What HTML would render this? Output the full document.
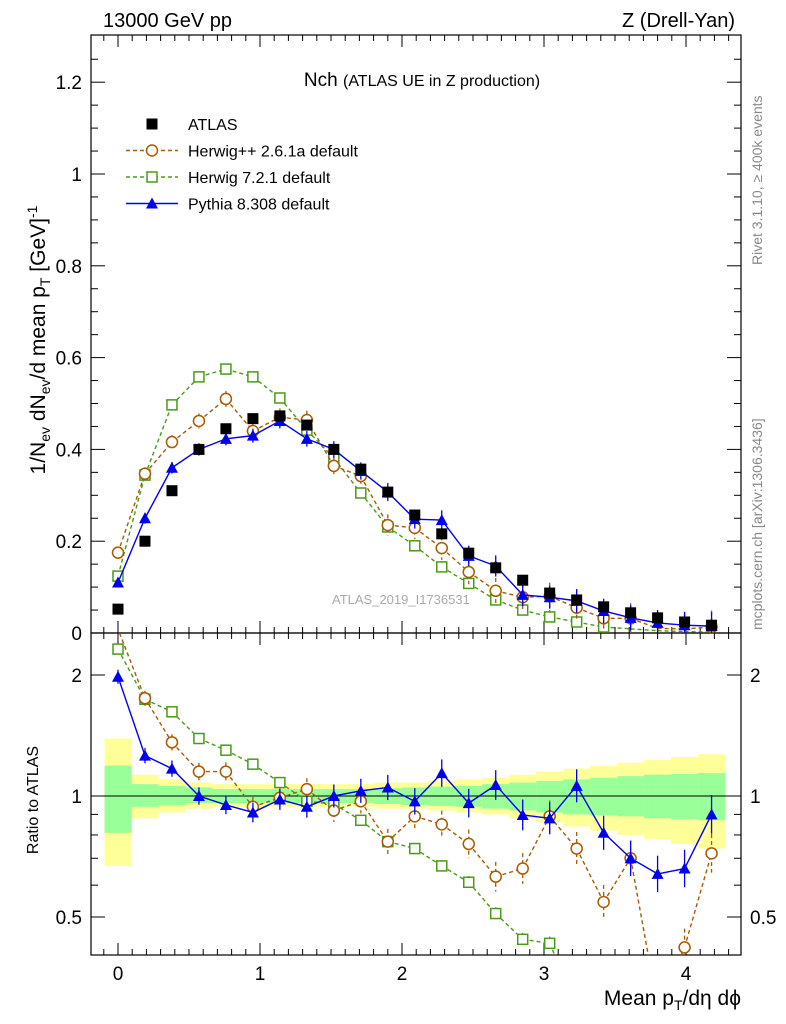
<!DOCTYPE html>
<html><head><meta charset="utf-8"><style>
html,body{margin:0;padding:0;background:#fff;overflow:hidden;width:786px;height:1024px}
svg{font-family:"Liberation Sans",Arial,sans-serif;display:block}
</style></head><body>
<svg id="c" width="786" height="1024" viewBox="0 0 786 1024" xmlns="http://www.w3.org/2000/svg">
<rect width="786" height="1024" fill="#fff"/>
<g id="bands"></g>
<g id="frames"></g>
<g id="series"></g>
<text x="103" y="27" font-size="20">13000 GeV pp</text>
<text x="735" y="27" font-size="20" text-anchor="end">Z (Drell-Yan)</text>
<text x="422" y="86" font-size="19" text-anchor="middle">Nch <tspan font-size="16">(ATLAS UE in Z production)</tspan></text>
<text x="332" y="604" font-size="13" fill="#aaa">ATLAS_2019_I1736531</text>
<text transform="translate(762,265) rotate(-90)" font-size="14" fill="#888">Rivet 3.1.10, ≥ 400k events</text>
<text transform="translate(762,630) rotate(-90)" font-size="14" fill="#888">mcplots.cern.ch [arXiv:1306.3436]</text>
<text transform="translate(45,340) rotate(-90)" font-size="21" text-anchor="middle">1/N<tspan font-size="14" dy="5">ev</tspan><tspan dy="-5"> dN</tspan><tspan font-size="14" dy="5">ev</tspan><tspan dy="-5">/d mean p</tspan><tspan font-size="14" dy="5">T</tspan><tspan dy="-5"> [GeV]</tspan><tspan font-size="14" dy="-8">-1</tspan></text>
<text transform="translate(38,800) rotate(-90)" font-size="16" text-anchor="middle">Ratio to ATLAS</text>
<text x="741" y="1005" font-size="21" text-anchor="end">Mean p<tspan font-size="14" dy="5">T</tspan><tspan dy="-5">/dη dϕ</tspan></text>
<g id="legend"></g>
</svg>
<script>
const xVals=[0,0.19,0.38,0.57,0.76,0.95,1.14,1.33,1.52,1.71,1.9,2.09,2.28,2.47,2.66,2.85,3.04,3.23,3.42,3.61,3.8,3.99,4.18];
const atlas=[0.052,0.2,0.31,0.40,0.445,0.467,0.473,0.453,0.40,0.357,0.307,0.257,0.216,0.174,0.142,0.115,0.087,0.072,0.057,0.044,0.033,0.024,0.017];
const pythia=[0.11,0.25,0.36,0.40,0.423,0.43,0.462,0.423,0.40,0.353,0.307,0.248,0.246,0.168,0.146,0.083,0.078,0.07,0.048,0.033,0.022,0.017,0.015];
const herwigpp=[0.175,0.347,0.416,0.462,0.51,0.44,0.47,0.464,0.364,0.342,0.235,0.229,0.185,0.133,0.092,0.078,0.08,0.055,0.032,0.032,0.01,0.009,0.013];
const herwig7=[0.124,0.344,0.497,0.558,0.575,0.558,0.512,0.442,0.381,0.305,0.231,0.19,0.144,0.108,0.072,0.05,0.035,0.024,0.013,0.009,0.005,0.003,0.002];
const rPythia=[1.98,1.26,1.17,1.0,0.95,0.91,0.98,0.94,1.0,1.03,1.05,0.97,1.14,0.96,1.065,0.897,0.88,1.06,0.81,0.70,0.64,0.66,0.90];
const rHerwigpp=[2.6,1.75,1.36,1.15,1.15,0.94,0.99,1.04,0.92,0.97,0.77,0.89,0.85,0.76,0.63,0.66,0.89,0.74,0.545,0.70,0.3,0.42,0.72];
const rHerwig7=[2.32,1.74,1.62,1.39,1.30,1.2,1.08,0.97,0.955,0.87,0.77,0.74,0.67,0.61,0.51,0.44,0.43,0.3,0.2,0.15,0.1,0.08,0.06];
const yellowUp=[1.39,1.13,1.1,1.08,1.07,1.07,1.07,1.07,1.07,1.07,1.08,1.08,1.09,1.1,1.11,1.13,1.15,1.17,1.19,1.21,1.23,1.25,1.27];
const yellowDn=[0.67,0.88,0.91,0.93,0.94,0.94,0.94,0.94,0.94,0.94,0.93,0.93,0.92,0.91,0.9,0.88,0.86,0.84,0.82,0.8,0.78,0.76,0.74];
const greenUp=[1.19,1.07,1.06,1.05,1.04,1.04,1.04,1.04,1.04,1.04,1.045,1.05,1.055,1.06,1.07,1.08,1.09,1.1,1.11,1.12,1.13,1.135,1.14];
const greenDn=[0.81,0.94,0.95,0.96,0.96,0.96,0.96,0.96,0.96,0.96,0.955,0.95,0.945,0.94,0.93,0.92,0.91,0.9,0.895,0.89,0.88,0.875,0.87];
const xTicks=[0,1,2,3,4];
const yTicks=[0,0.2,0.4,0.6,0.8,1,1.2];
const rTicks=[0.5,1,2];
const NS="http://www.w3.org/2000/svg";
const L=91,R=741,T=35,M=633,B=955;
const X=v=>118+v*142;
const Y=v=>633-v*459;
const RY=v=>796-Math.log2(v)*121;
function el(tag,attrs,parent){const e=document.createElementNS(NS,tag);for(const k in attrs)e.setAttribute(k,attrs[k]);parent.appendChild(e);return e;}
const bands=document.getElementById('bands'),frames=document.getElementById('frames'),ser=document.getElementById('series'),leg=document.getElementById('legend');
xVals.forEach((x,i)=>{const x0=X(x)-13.5,w=27.2;
 const yb=Math.min(RY(yellowDn[i]),B);
 let r=el('rect',{x:x0,y:RY(yellowUp[i]),width:w,height:yb-RY(yellowUp[i]),fill:'#ffff99'},bands);
 
 let g=el('rect',{x:x0,y:RY(greenUp[i]),width:w,height:RY(greenDn[i])-RY(greenUp[i]),fill:'#99ff99'},bands);
 });
[[T,M],[M,B]].forEach(([a,b],k)=>{const f=el('rect',{x:L,y:a,width:R-L,height:b-a,fill:'none',stroke:'#000','stroke-width':1.2},frames);
 });
const rl=el('line',{x1:L,x2:R,y1:796,y2:796,stroke:'#000'},frames);

for(let v=-0.1;v<=4.4;v+=0.1){const x=X(Math.round(v*10)/10);if(x<L||x>R)continue;const maj=Math.abs(v-Math.round(v))<1e-6,len=maj?12:6;
 [T,M].forEach(y=>el('line',{x1:x,x2:x,y1:y,y2:y+len,stroke:'#000'},frames));
 [M,B].forEach(y=>el('line',{x1:x,x2:x,y1:y,y2:y-len,stroke:'#000'},frames));}
xTicks.forEach(v=>{const t=el('text',{x:X(v),y:980,'font-size':19,'text-anchor':'middle'},frames);t.textContent=v;
 });
for(let v=0;v<=1.3;v+=0.05){const y=Y(v);const maj=Math.abs(v*5-Math.round(v*5))<1e-6,len=maj?14:7;
 el('line',{x1:L,x2:L+len,y1:y,y2:y,stroke:'#000'},frames);el('line',{x1:R,x2:R-len,y1:y,y2:y,stroke:'#000'},frames);}
yTicks.forEach(v=>{const t=el('text',{x:82,y:Y(v)+7,'font-size':19,'text-anchor':'end'},frames);t.textContent=v;
 });
[0.5,0.6,0.7,0.8,0.9,1,2].forEach(v=>{const y=RY(v),len=(v===0.5||v===1||v===2)?14:7;
 el('line',{x1:L,x2:L+len,y1:y,y2:y,stroke:'#000'},frames);el('line',{x1:R,x2:R-len,y1:y,y2:y,stroke:'#000'},frames);});
rTicks.forEach(v=>{[[82,'end'],[750,'start']].forEach(([x,a])=>{const t=el('text',{x:x,y:RY(v)+7,'font-size':19,'text-anchor':a},frames);t.textContent=v;
 });});
function marker(type,x,y,color,p){
 if(type==='circle')return el('circle',{cx:x,cy:y,r:5.5,fill:'#fff',stroke:color,'stroke-width':1.5},p);
 if(type==='square')return el('rect',{x:x-5,y:y-5,width:10,height:10,fill:'#fff',stroke:color,'stroke-width':1.5},p);
 if(type==='tri')return el('polygon',{points:`${x},${y-6} ${x-6},${y+5} ${x+6},${y+5}`,fill:color},p);
 return el('rect',{x:x-5.5,y:y-5.5,width:11,height:11,fill:'#000'},p);}
function clipSeg(x1,y1,x2,y2,top,bot){
 let t0=0,t1=1;const dy=y2-y1;
 if(dy===0){if(y1<top||y1>bot)return null;}
 else{let ta=(top-y1)/dy,tb=(bot-y1)/dy;if(ta>tb)[ta,tb]=[tb,ta];t0=Math.max(t0,ta);t1=Math.min(t1,tb);if(t0>t1)return null;}
 return [x1+(x2-x1)*t0,y1+dy*t0,x1+(x2-x1)*t1,y1+dy*t1];}
function drawSeries(vals,yf,top,bot,color,type,dash,name,err){
 const g=el('g',{},ser);
 
 const pts=xVals.map((x,i)=>[X(x),yf(vals[i])]);
 for(let i=0;i<pts.length-1;i++){const s=clipSeg(pts[i][0],pts[i][1],pts[i+1][0],pts[i+1][1],top,bot);
  if(s)el('line',{x1:s[0],y1:s[1],x2:s[2],y2:s[3],stroke:color,'stroke-width':1.4,'stroke-dasharray':dash},g);}
 pts.forEach(([x,y],i)=>{if(y<top||y>bot)return;const e=err*(1+i*0.08);
  el('line',{x1:x,x2:x,y1:Math.max(top,y-e),y2:Math.min(bot,y+e),stroke:color,'stroke-width':1.3,'stroke-dasharray':dash},g);
  if(y<top+5||y>bot-5)return;
  const m=marker(type,x,y,color,g);});}
drawSeries(herwig7,Y,T,M,'#4a9a1a','square','4,3','herwig7-main',3);
drawSeries(herwigpp,Y,T,M,'#a85a00','circle','4,3','herwigpp-main',6);
drawSeries(pythia,Y,T,M,'#0000ee','tri','','pythia-main',5);
xVals.forEach((x,i)=>{const m=marker('sq',X(x),Y(atlas[i]),'#000',ser);});
drawSeries(rHerwig7,RY,M,B,'#4a9a1a','square','4,3','herwig7-ratio',3);
drawSeries(rHerwigpp,RY,M,B,'#a85a00','circle','4,3','herwigpp-ratio',7);
drawSeries(rPythia,RY,M,B,'#0000ee','tri','','pythia-ratio',7);
const items=[['ATLAS','sq','#000',''],['Herwig++ 2.6.1a default','circle','#a85a00','4,3'],['Herwig 7.2.1 default','square','#4a9a1a','4,3'],['Pythia 8.308 default','tri','#0000ee','']];
items.forEach((it,i)=>{const y=124+i*26.5;const g=el('g',{},leg);
 
 if(i>0)el('line',{x1:126,x2:178,y1:y,y2:y,stroke:it[2],'stroke-width':1.4,'stroke-dasharray':it[3]},g);
 marker(it[1],152,y,it[2],g);
 const t=el('text',{x:188,y:y+6,'font-size':16},g);t.textContent=it[0];});
</script>
</body></html>
